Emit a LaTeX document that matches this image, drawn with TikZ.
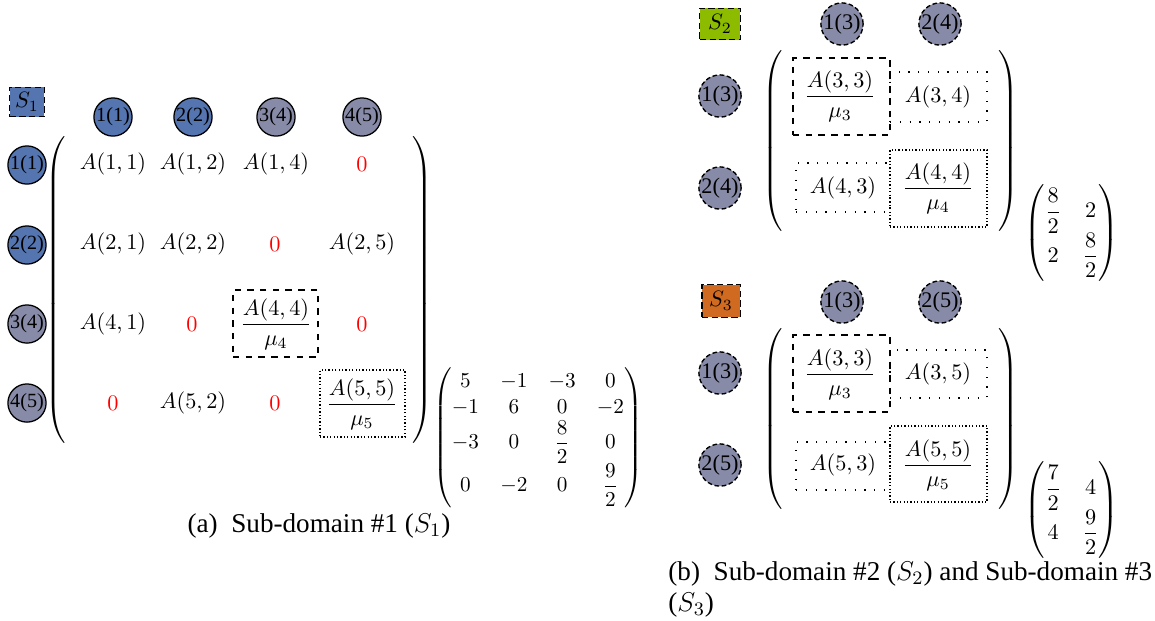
\RequirePackage{fix-cm}
\documentclass[tikz,border=0pt]{standalone}
\usepackage{amsmath}
\usepackage[no-math]{fontspec}
\setmainfont{Liberation Serif}
\usetikzlibrary{fit}
\definecolor{blueC}{RGB}{84,117,176}
\definecolor{greyC}{RGB}{136,139,168}
\definecolor{greenC}{RGB}{140,187,0}
\definecolor{orangeC}{RGB}{209,106,33}
\delimitershortfall=0pt
\delimiterfactor=1001
\newcommand{\myLpar}[1]{$\left(\vcenter{\hbox{\rule{0pt}{#1}}}\right.$}
\newcommand{\myRpar}[1]{$\left.\vcenter{\hbox{\rule{0pt}{#1}}}\right)$}
\begin{document}
\begin{tikzpicture}[x=0.4715pt,y=-0.4715pt,
  font=\fontsize{10.5}{12.6}\selectfont,
  ent/.style={inner sep=0pt},
  zero/.style={inner sep=0pt,text=red},
  parnode/.style={inner sep=0pt},
  vecnode/.style={inner sep=0pt,font=\fontsize{10}{12}\selectfont},
  lcirc/.style={circle,draw,line width=0.6pt,inner sep=0pt,minimum size=17pt,font=\fontsize{9.5}{10}\selectfont},
  rcirc/.style={circle,draw,fill=greyC,dash pattern=on 2.2pt off 1.2pt,line width=0.65pt,inner sep=0pt,minimum size=19pt,font=\fontsize{10.5}{11}\selectfont},
  sbox/.style={draw,dash pattern=on 3pt off 1.6pt,line width=0.55pt,inner sep=0pt},
  dbox/.style={draw,dashed,line width=0.5pt,inner sep=0pt},
  ldbox/.style={draw,loosely dotted,line width=0.6pt,inner sep=0pt},
  ddbox/.style={draw,densely dotted,line width=0.6pt,inner sep=0pt},
  captxt/.style={inner sep=0pt,font=\fontsize{12.8}{14.6}\selectfont}
]
\useasboundingbox (0,0) rectangle (1155,620);

% ---------------- left panel ----------------
\node[sbox,fill=blueC,minimum width=16.5pt,minimum height=14pt] (s1) at (27,102) {$S_1$};
\node[lcirc,fill=blueC] (c1) at (113,117) {1(1)};
\node[lcirc,fill=blueC] (c2) at (193,117) {2(2)};
\node[lcirc,fill=greyC] (c3) at (276,117) {3(4)};
\node[lcirc,fill=greyC] (c4) at (362,117) {4(5)};
\node[lcirc,fill=blueC] (r1) at (27,165) {1(1)};
\node[lcirc,fill=blueC] (r2) at (27,245) {2(2)};
\node[lcirc,fill=greyC] (r3) at (27,324) {3(4)};
\node[lcirc,fill=greyC] (r4) at (27,403) {4(5)};

\node[parnode] (lpL) at (57,290) {\myLpar{141.5pt}};
\node[parnode] (rpL) at (421,290) {\myRpar{141.5pt}};

\node[ent] (a11) at (113,164) {$A(1,1)$};
\node[ent] (a12) at (193,164) {$A(1,2)$};
\node[ent] (a14) at (276,164) {$A(1,4)$};
\node[zero] (z15) at (362,164) {$0$};
\node[ent] (a21) at (113,244) {$A(2,1)$};
\node[ent] (a22) at (193,244) {$A(2,2)$};
\node[zero] (z24) at (275,244) {$0$};
\node[ent] (a25) at (362,244) {$A(2,5)$};
\node[ent] (a41) at (113,324) {$A(4,1)$};
\node[zero] (z42) at (192,324) {$0$};
\node[ent] (a44) at (276,324) {$\dfrac{A(4,4)}{\mu_4}$};
\node[zero] (z45) at (362,324) {$0$};
\node[zero] (z51) at (113,403) {$0$};
\node[ent] (a52) at (193,403) {$A(5,2)$};
\node[zero] (z54) at (275,403) {$0$};
\node[ent] (a55) at (362,404) {$\dfrac{A(5,5)}{\mu_5}$};

\node[dbox,fit={(233,290)(318,357)}] (b44) {};
\node[ddbox,fit={(320,370)(405,437)}] (b55) {};

\node[vecnode] (v1) at (538,438) {$\begin{pmatrix}5&-1&-3&0\\-1&6&0&-2\\-3&0&\dfrac{8}{2}&0\\0&-2&0&\dfrac{9}{2}\end{pmatrix}$};

\node[captxt] (capa) at (319,526) {(a)\enspace Sub-domain \#1 ($S_1$)};

% ---------------- right panel: S2 ----------------
\node[sbox,fill=greenC,minimum width=19pt,minimum height=15pt] (s2) at (720,24) {$S_2$};
\node[rcirc] (s2c1) at (842,24) {1(3)};
\node[rcirc] (s2c2) at (940,24) {2(4)};
\node[rcirc] (s2r1) at (720,96) {1(3)};
\node[rcirc] (s2r2) at (720,188) {2(4)};

\node[parnode] (lpS2) at (774,141) {\myLpar{83.5pt}};
\node[parnode] (rpS2) at (1007,141) {\myRpar{83.5pt}};

\node[ent] (s2a33) at (840,96) {$\dfrac{A(3,3)}{\mu_3}$};
\node[ent] (s2a34) at (938,97) {$A(3,4)$};
\node[ent] (s2a43) at (843,188) {$A(4,3)$};
\node[ent] (s2a44) at (938,188) {$\dfrac{A(4,4)}{\mu_4}$};

\node[dbox,fit={(793,58)(890,135)}] (s2b33) {};
\node[ldbox,fit={(890,72)(987,122)}] (s2b34) {};
\node[ldbox,fit={(796,163)(890,212)}] (s2b43) {};
\node[ddbox,fit={(890,150)(987,227)}] (s2b44) {};

\node[inner sep=0pt] (v2) at (1072,233) {$\begin{pmatrix}\dfrac{8}{2}&2\\2&\dfrac{8}{2}\end{pmatrix}$};

% ---------------- right panel: S3 ----------------
\node[sbox,fill=orangeC,minimum width=18pt,minimum height=15.5pt] (s3) at (721,301) {$S_3$};
\node[rcirc] (s3c1) at (842,302) {1(3)};
\node[rcirc] (s3c2) at (940,302) {2(5)};
\node[rcirc] (s3r1) at (720,373) {1(3)};
\node[rcirc] (s3r2) at (720,465) {2(5)};

\node[parnode] (lpS3) at (774,419) {\myLpar{84pt}};
\node[parnode] (rpS3) at (1007,419) {\myRpar{84pt}};

\node[ent] (s3a33) at (840,374) {$\dfrac{A(3,3)}{\mu_3}$};
\node[ent] (s3a35) at (938,374) {$A(3,5)$};
\node[ent] (s3a53) at (843,465) {$A(5,3)$};
\node[ent] (s3a55) at (938,465) {$\dfrac{A(5,5)}{\mu_5}$};

\node[dbox,fit={(793,335)(890,412)}] (s3b33) {};
\node[ldbox,fit={(890,350)(987,398)}] (s3b35) {};
\node[ldbox,fit={(796,442)(890,490)}] (s3b53) {};
\node[ddbox,fit={(890,426)(987,502)}] (s3b55) {};

\node[inner sep=0pt] (v3) at (1072,510) {$\begin{pmatrix}\dfrac{7}{2}&4\\4&\dfrac{9}{2}\end{pmatrix}$};

\node[captxt,anchor=north west,align=left] (capb) at (668,561) {(b)\enspace Sub-domain \#2 ($S_2$) and Sub-domain \#3\\($S_3$)};
\end{tikzpicture}
\end{document}
